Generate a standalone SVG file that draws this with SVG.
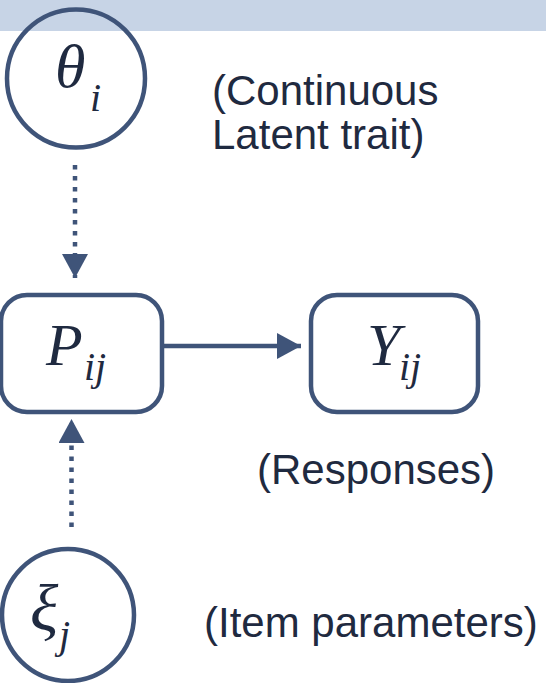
<svg xmlns="http://www.w3.org/2000/svg" width="546" height="683" viewBox="0 0 546 683">
<defs>
<style>
.node{fill:none;stroke:#3f5479;stroke-width:4.5}
.math{font-family:"Liberation Serif","Times New Roman",serif;font-style:italic;fill:#1f2a40}
.lbl{font-family:"Liberation Sans",Arial,sans-serif;font-size:42px;fill:#1f2a40}
.edge{stroke:#3f5479;stroke-width:4.5;fill:none}
.dot{stroke-dasharray:4.5 6.5}
</style>
<marker id="ah" viewBox="0 0 24 26" refX="24" refY="13" markerWidth="24" markerHeight="26" markerUnits="userSpaceOnUse" orient="auto">
<path d="M0,0 L24,13 L0,26 Z" fill="#3f5479"/>
</marker>
</defs>
<rect x="0" y="0" width="546" height="31" fill="#c7d4e6"/>
<g id="connectors">
<line class="edge dot" x1="75" y1="165" x2="75" y2="278" marker-end="url(#ah)"/>
<line class="edge" x1="163" y1="346" x2="301" y2="346" marker-end="url(#ah)"/>
<line class="edge dot" x1="71.5" y1="527" x2="71.5" y2="419" marker-end="url(#ah)"/>
</g>
<g id="theta">
<circle class="node" cx="76" cy="78.5" r="69"/>
<text class="math" x="55" y="87" font-size="62">θ<tspan x="90" y="111" font-size="40">i</tspan></text>
</g>
<g id="P">
<rect class="node" x="1" y="295" width="161" height="117" rx="26"/>
<text class="math" x="46" y="365" font-size="60">P<tspan x="84" y="380" font-size="40">ij</tspan></text>
</g>
<g id="Y">
<rect class="node" x="311" y="295" width="167" height="117" rx="26"/>
<text class="math" x="367" y="365" font-size="60">Y<tspan x="399" y="380" font-size="40">ij</tspan></text>
</g>
<g id="xi">
<circle class="node" cx="68" cy="615" r="66"/>
<text class="math" x="30" y="630" font-size="66">ξ<tspan x="59" y="648" font-size="40">j</tspan></text>
</g>
<g id="labels">
<text class="lbl" x="212" y="105">(Continuous</text>
<text class="lbl" x="212" y="149">Latent trait)</text>
<text class="lbl" x="257" y="484">(Responses)</text>
<text class="lbl" x="204" y="637">(Item parameters)</text>
</g>
</svg>
